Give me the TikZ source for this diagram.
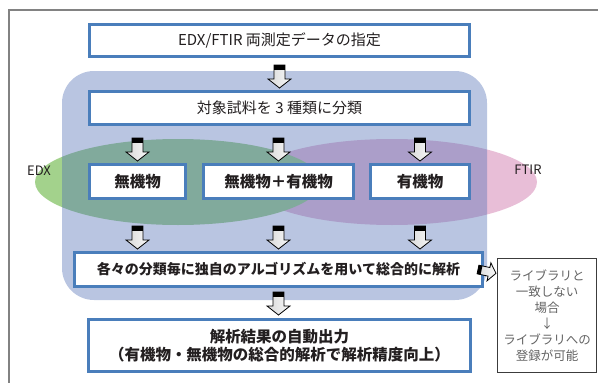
\documentclass[tikz,border=0pt]{standalone}
\usepackage{fontspec}
\setmainfont{Noto Sans CJK JP}
\usetikzlibrary{calc}
\definecolor{boxblue}{RGB}{74,126,187}
\definecolor{regionblue}{RGB}{80,110,180}
\definecolor{edxgreen}{RGB}{163,210,140}
\definecolor{ftirpink}{RGB}{232,190,215}
\definecolor{framegray}{RGB}{130,130,130}
\definecolor{textdark}{RGB}{35,31,32}
\definecolor{sidetext}{RGB}{100,100,100}
\definecolor{sideframe}{RGB}{60,60,60}
\tikzset{
  flowbox/.style={draw=boxblue, line width=3pt, fill=white, inner sep=0pt,
    text=textdark, align=center},
  sidebox/.style={draw=sideframe, line width=1pt, fill=white, inner sep=0pt,
    text=sidetext, align=center},
  sidelabel/.style={text=textdark, inner sep=0pt},
  barrow/.pic={
    \draw[line width=0.8pt, left color=gray!30, right color=gray!5]
      (-5.5,0) -- (-5.5,14) -- (-11.5,14) -- (0,23) -- (11.5,14) -- (5.5,14) -- (5.5,0) -- cycle;
    \fill[black] (-5.5,0) -- (5.5,0) -- (5.5,4.5) -- (-5.5,4.5) -- cycle;
  }
}
\begin{document}
\begin{tikzpicture}[x=1pt,y=-1pt]
\useasboundingbox (0,0) rectangle (598,383);
% outer frame
\draw[framegray, line width=1.3pt] (9,400) -- (9,10) -- (620,10);
% ellipses
\fill[ftirpink] (392,182) ellipse [x radius=145, y radius=43];
\fill[edxgreen] (178,182) ellipse [x radius=143, y radius=43];
% region
\fill[regionblue, fill opacity=0.4, rounded corners=32pt] (62,71) rectangle (487,300);
% boxes
\node[flowbox, minimum width=380pt, minimum height=32pt, font=\fontsize{15}{18}\selectfont] (spec) at (279.5,40.5)
  {EDX/FTIR 両測定データの指定};
\node[flowbox, minimum width=380pt, minimum height=33pt, font=\fontsize{15}{18}\selectfont] (cls) at (279.5,108)
  {対象試料を 3 種類に分類};
\node[flowbox, minimum width=96pt, minimum height=34pt, font=\fontsize{15.5}{18}\selectfont\bfseries] (r1) at (137.5,181.5)
  {無機物};
\node[flowbox, minimum width=150pt, minimum height=34pt, font=\fontsize{15.5}{18}\selectfont\bfseries] (r2) at (278.5,181.5)
  {無機物＋有機物};
\node[flowbox, minimum width=99pt, minimum height=34pt, font=\fontsize{15.5}{18}\selectfont\bfseries] (r3) at (420,181.5)
  {有機物};
\node[flowbox, minimum width=408pt, minimum height=34pt, font=\fontsize{14}{17}\selectfont\bfseries] (ana) at (278.5,269.5)
  {各々の分類毎に独自のアルゴリズムを用いて総合的に解析};
\node[flowbox, minimum width=382pt, minimum height=52pt, font=\fontsize{15.5}{18}\selectfont\bfseries] (out) at (279.5,345.5)
  {解析結果の自動出力\\（有機物・無機物の総合的解析で解析精度向上）};
\node[sidebox, minimum width=99pt, minimum height=114pt, font=\fontsize{12.5}{16}\selectfont] (lib) at (547,315.5)
  {ライブラリと\\一致しない\\場合\\↓\\ライブラリへの\\登録が可能};
% labels
\node[sidelabel, font=\fontsize{13}{15}\selectfont] (edx) at (39,171) {EDX};
\node[sidelabel, font=\fontsize{13}{15}\selectfont] (ftir) at (528,170) {FTIR};
% block arrows
\pic at ($(spec.south)+(0,7)$) {barrow};
\pic at ($(cls.south -| r1.north)+(0,12)$) {barrow};
\pic at ($(cls.south -| r2.north)+(0,12)$) {barrow};
\pic at ($(cls.south -| r3.north)+(0,12)$) {barrow};
\pic at ($(r1.south)+(0,26)$) {barrow};
\pic at ($(r2.south)+(0,26)$) {barrow};
\pic at ($(r3.south)+(0,26)$) {barrow};
\pic at ($(ana.south)+(0,4)$) {barrow};
\coordinate (sidestart) at ($(ana.east)+(-6,0)$);
\pic[rotate=78, scale=0.8] at (sidestart) {barrow};
\end{tikzpicture}
\end{document}
